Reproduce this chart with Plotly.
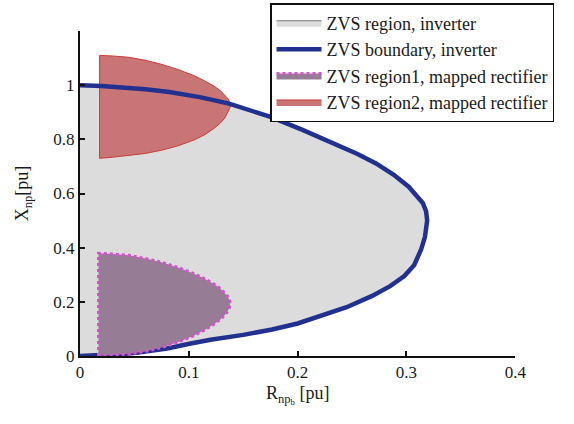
import plotly.graph_objects as go

# ZVS boundary of the inverter (R, X), X from 0 to 1
bound_R = [0.0, 0.012, 0.025, 0.038, 0.052, 0.066, 0.08, 0.1005, 0.12, 0.15,
           0.1765, 0.2, 0.222, 0.245, 0.268, 0.285, 0.298, 0.307, 0.3135, 0.317,
           0.319, 0.318, 0.315, 0.309, 0.302, 0.288, 0.272, 0.255, 0.237, 0.205,
           0.175, 0.155, 0.137, 0.11, 0.082, 0.06, 0.04, 0.02, 0.0]
bound_X = [0.0, 0.001, 0.004, 0.007, 0.012, 0.019, 0.028, 0.045, 0.06, 0.078,
           0.098, 0.12, 0.148, 0.18, 0.221, 0.258, 0.295, 0.335, 0.394, 0.44,
           0.50, 0.535, 0.565, 0.595, 0.625, 0.67, 0.711, 0.746, 0.779, 0.834,
           0.883, 0.91, 0.932, 0.956, 0.975, 0.985, 0.992, 0.997, 1.0]

# ZVS region1, mapped rectifier (closed outline)
reg1_R = [0.017, 0.017, 0.03, 0.045, 0.06, 0.075, 0.09, 0.105, 0.115, 0.123,
          0.129, 0.133, 0.136, 0.1375, 0.138, 0.1375, 0.136, 0.133, 0.129,
          0.123, 0.115, 0.105, 0.09, 0.075, 0.06, 0.045, 0.03, 0.017]
reg1_X = [0.0, 0.379, 0.377, 0.372, 0.360, 0.346, 0.327, 0.304, 0.284, 0.266,
          0.249, 0.234, 0.219, 0.206, 0.194, 0.181, 0.167, 0.151, 0.135,
          0.117, 0.097, 0.076, 0.051, 0.031, 0.017, 0.007, 0.002, 0.0]

# ZVS region2, mapped rectifier (closed outline)
reg2_R = [0.018, 0.018, 0.03, 0.045, 0.06, 0.075, 0.09, 0.105, 0.115, 0.123,
          0.129, 0.133, 0.136, 0.1375, 0.1385, 0.1375, 0.136, 0.133, 0.129,
          0.123, 0.115, 0.105, 0.09, 0.075, 0.06, 0.045, 0.03, 0.018]
reg2_X = [0.73, 1.11, 1.108, 1.103, 1.092, 1.077, 1.058, 1.035, 1.015, 0.997,
          0.98, 0.965, 0.95, 0.938, 0.926, 0.914, 0.90, 0.878, 0.86, 0.84,
          0.818, 0.798, 0.776, 0.76, 0.748, 0.74, 0.734, 0.73]

x_ticks = [0, 0.1, 0.2, 0.3, 0.4]
x_ticklabels = ["0", "0.1", "0.2", "0.3", "0.4"]
y_ticks = [0, 0.2, 0.4, 0.6, 0.8, 1.0]
y_ticklabels = ["0", "0.2", "0.4", "0.6", "0.8", "1"]

FONT = "Liberation Serif"

fig = go.Figure()
fig.add_trace(go.Scatter(
    x=bound_R, y=bound_X, fill="toself", mode="lines",
    fillcolor="#dcdcdc", line=dict(color="#7a7a7a", width=1),
    name="ZVS region, inverter", legendrank=1))
fig.add_trace(go.Scatter(
    x=reg2_R, y=reg2_X, fill="toself", mode="lines",
    fillcolor="#c97575", line=dict(color="#c83c3c", width=1),
    name="ZVS region2, mapped rectifier", legendrank=4))
fig.add_trace(go.Scatter(
    x=bound_R, y=bound_X, mode="lines",
    line=dict(color="#22318f", width=4.5),
    name="ZVS boundary, inverter", legendrank=2))
fig.add_trace(go.Scatter(
    x=reg1_R, y=reg1_X, fill="toself", mode="lines",
    fillcolor="#967c95", line=dict(color="#d552cf", width=3, dash="dot"),
    name="ZVS region1, mapped rectifier", legendrank=3))

# paper area: x 80..564 px, y 2..356 px; axes occupy part of it
fig.update_layout(
    width=574, height=424,
    margin=dict(l=80, r=10, t=2, b=68),
    paper_bgcolor="white", plot_bgcolor="white",
    font=dict(family=FONT, size=16, color="#1a1a1a"),
    showlegend=True,
    legend=dict(
        x=0.9855, y=0.997, xanchor="right", yanchor="top",
        bgcolor="white", bordercolor="#111111", borderwidth=1.5,
        font=dict(family=FONT, size=18, color="#1a1a1a"),
        itemwidth=45, tracegroupgap=0,
    ),
    xaxis=dict(
        domain=[0, 0.905],
        range=[0, 0.4], tickvals=x_ticks, ticktext=x_ticklabels,
        showgrid=False, zeroline=False, showline=True, linecolor="#111111",
        linewidth=2, ticks="inside", ticklen=5, tickcolor="#111111",
        tickwidth=1.5, tickfont=dict(size=17),
        title=dict(text="R<sub>np<sub>b</sub></sub> [pu]", font=dict(size=18),
                   standoff=5),
    ),
    yaxis=dict(
        domain=[0, 0.918],
        range=[0, 1.2], tickvals=y_ticks, ticktext=y_ticklabels,
        showgrid=False, zeroline=False, showline=True, linecolor="#111111",
        linewidth=2, ticks="inside", ticklen=5, tickcolor="#111111",
        tickwidth=1.5, tickfont=dict(size=17),
        title=dict(text="X<sub>np</sub>[pu]", font=dict(size=18), standoff=20),
    ),
)

fig.write_html("out.html", config={"displayModeBar": False},
               post_script="document.body.style.margin='0';")
